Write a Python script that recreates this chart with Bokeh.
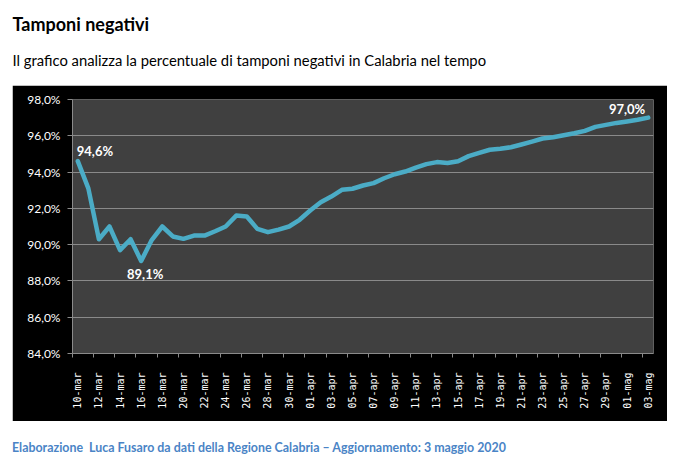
import math
from bokeh.plotting import figure
from bokeh.models import ColumnDataSource, Range1d, FixedTicker, Div
from bokeh.layouts import column
from bokeh.core.properties import value
from bokeh.embed import file_html
from bokeh.resources import INLINE

dates = ["10-mar", "11-mar", "12-mar", "13-mar", "14-mar", "15-mar", "16-mar", "17-mar",
         "18-mar", "19-mar", "20-mar", "21-mar", "22-mar", "23-mar", "24-mar", "25-mar",
         "26-mar", "27-mar", "28-mar", "29-mar", "30-mar", "31-mar",
         "01-apr", "02-apr", "03-apr", "04-apr", "05-apr", "06-apr", "07-apr", "08-apr",
         "09-apr", "10-apr", "11-apr", "12-apr", "13-apr", "14-apr", "15-apr", "16-apr",
         "17-apr", "18-apr", "19-apr", "20-apr", "21-apr", "22-apr", "23-apr", "24-apr",
         "25-apr", "26-apr", "27-apr", "28-apr", "29-apr", "30-apr",
         "01-mag", "02-mag", "03-mag"]

negativi = [94.6, 93.1, 90.3, 91.0, 89.7, 90.3, 89.1, 90.25, 91.0, 90.45,
            90.32, 90.5, 90.5, 90.74, 91.0, 91.6, 91.55, 90.87, 90.69, 90.83,
            91.0, 91.37, 91.88, 92.34, 92.65, 93.02, 93.08, 93.26, 93.39, 93.66,
            93.88, 94.03, 94.25, 94.44, 94.55, 94.5, 94.6, 94.88, 95.06, 95.23,
            95.28, 95.37, 95.52, 95.68, 95.85, 95.92, 96.03, 96.14, 96.27, 96.49,
            96.6, 96.71, 96.79, 96.88, 97.0]

y_ticks = [84, 86, 88, 90, 92, 94, 96, 98]
annotated = [0, 6, 54]

title = "Tamponi negativi"
subtitle = "Il grafico analizza la percentuale di tamponi negativi in Calabria nel tempo"
source_note = "Elaborazione&nbsp; Luca Fusaro da dati della Regione Calabria \u2013 Aggiornamento: 3 maggio 2020"

FONT = value("Lato")

span = '<span style="position:absolute;left:%spx;top:%spx;line-height:1;white-space:nowrap;%s">%s</span>'

head = Div(width=685, height=85, margin=0, text=(
    '<div style="position:relative;width:685px;height:85px;font-family:Lato;color:black">'
    + span % (12.5, 14.5, "font-size:18px;font-weight:bold", title)
    + span % (12.5, 52.8, "font-size:14.8px", subtitle)
    + '</div>'))

# main chart
x = list(range(len(dates)))
src = ColumnDataSource(dict(x=x, y=negativi))

p = figure(width=655, height=336, output_backend="svg", toolbar_location=None,
           x_range=Range1d(-0.5, len(dates) - 0.5), y_range=Range1d(84, 98),
           min_border_left=60, min_border_right=14, min_border_top=14, min_border_bottom=68,
           border_fill_color="black", background_fill_color="#404040",
           margin=(0, 0, 0, 12))
p.outline_line_color = None

p.line("x", "y", source=src, line_color="#4bacc6", line_width=4.5, line_join="round",
       line_cap="round")

lab = ColumnDataSource(dict(
    x=annotated,
    y=[negativi[i] for i in annotated],
    text=[("%.1f%%" % negativi[i]).replace(".", ",") for i in annotated],
    align=["left", "center", "right"],
    dx=[-1, 4, -3],
    dy=[-10, 13, -9],
))
p.text("x", "y", text="text", source=lab, text_align="align", text_baseline="middle",
       x_offset="dx", y_offset="dy", text_color="white", text_font=FONT,
       text_font_size="13px", text_font_style="bold")

p.xgrid.visible = False
p.ygrid.ticker = FixedTicker(ticks=y_ticks)
p.ygrid.grid_line_color = "#8a8a8a"
p.ygrid.grid_line_width = 1

p.yaxis.ticker = FixedTicker(ticks=y_ticks)
p.yaxis.major_label_overrides = {t: "%d,0%%" % t for t in y_ticks}
p.yaxis.axis_line_color = "#8a8a8a"
p.yaxis.major_tick_line_color = "#8a8a8a"
p.yaxis.major_tick_out = 5
p.yaxis.major_tick_in = 0
p.yaxis.minor_tick_line_color = None
p.yaxis.major_label_text_color = "white"
p.yaxis.major_label_text_font = "Lato"
p.yaxis.major_label_text_font_size = "12px"
p.yaxis.major_label_standoff = 7

p.xaxis.ticker = FixedTicker(ticks=x[::2], minor_ticks=[i - 0.5 for i in range(0, len(dates), 2)])
p.xaxis.major_label_overrides = {i: dates[i] for i in x[::2]}
p.xaxis.major_label_orientation = math.pi / 2
p.xaxis.axis_line_color = "#8a8a8a"
p.xaxis.major_tick_line_color = None
p.xaxis.minor_tick_line_color = "#8a8a8a"
p.xaxis.minor_tick_out = 4
p.xaxis.minor_tick_in = 0
p.xaxis.major_label_text_color = "white"
p.xaxis.major_label_text_font = "DejaVu Sans Mono"
p.xaxis.major_label_text_font_size = "10px"
p.xaxis.major_label_standoff = 13

foot = Div(width=685, height=45, margin=0, text=(
    '<div style="position:relative;width:685px;height:45px;font-family:Lato;color:#4a84c6">'
    + span % (12, 20.5, "font-size:12.4px;font-weight:bold", source_note)
    + '</div>'))

layout = column(head, p, foot, spacing=0)

open("out.html", "w").write(file_html(layout, INLINE))
